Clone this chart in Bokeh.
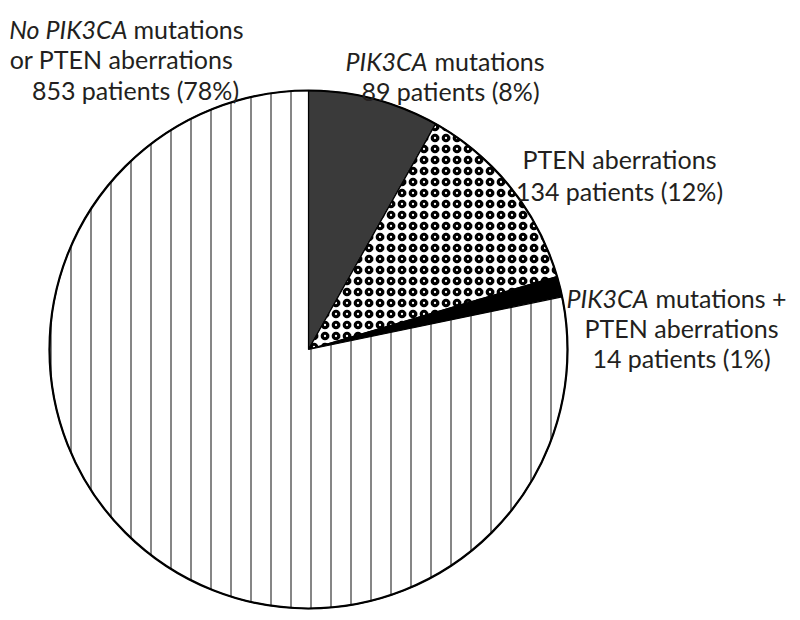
import math
from bokeh.plotting import figure
from bokeh.models import ColumnDataSource, Range1d
from bokeh.core.properties import value
from bokeh.embed import file_html
from bokeh.resources import INLINE

# ---- data ----
categories = ["PIK3CA mutations", "PTEN aberrations",
              "PIK3CA mutations + PTEN aberrations",
              "No PIK3CA mutations or PTEN aberrations"]
patients = [89, 134, 14, 853]
percents = [8, 12, 1, 78]

# ---- styles ----
fills = ["#3a3a3a", "white", "black", "white"]
hatches = ["blank", "ring", "blank", "vertical_line"]
hatch_scales = [10, 11, 10, 20]
hatch_weights = [1, 3.2, 1, 1.3]
hatch_colors = ["black", "black", "black", "#444444"]

W, H = 792, 612
p = figure(width=W, height=H, output_backend="svg", toolbar_location=None,
           x_range=Range1d(0, W), y_range=Range1d(620 - H, 620),
           min_border=0)
p.axis.visible = False
p.grid.visible = False
p.outline_line_color = None
p.background_fill_color = "white"

def Y(img_y):
    return 620 - img_y

cx, cy, r = 308, Y(349), 259
total = sum(patients)
starts, ends = [], []
cum = 0
for n in patients:
    a0 = math.pi / 2 - 2 * math.pi * cum / total
    cum += n
    a1 = math.pi / 2 - 2 * math.pi * cum / total
    starts.append(a0)
    ends.append(a1)

src = ColumnDataSource(dict(
    start=starts, end=ends, fill=fills, hatch=hatches,
    hs=hatch_scales, hw=hatch_weights, hc=hatch_colors,
    x=[cx] * 4, y=[cy] * 4))
p.wedge(x="x", y="y", radius=r, start_angle="start", end_angle="end",
        direction="clock", source=src, fill_color="fill",
        hatch_pattern="hatch", hatch_scale="hs", hatch_weight="hw",
        hatch_color="hc", line_color="black", line_width=1.2)
p.circle(x=[cx], y=[cy], radius=r, fill_color=None, line_color="black",
         line_width=2.2)

FONT = "Lato"
FS = "25px"
COL = "#231f20"

def txt(x, y, s, align, italic=False):
    p.text(x=[x], y=[Y(y)], text=[s], text_align=align,
           text_baseline="alphabetic", text_font=value(FONT),
           text_font_size=FS, text_color=COL,
           text_font_style="italic" if italic else "normal")

def lab(i):
    return f"{patients[i]} patients ({percents[i]}%)"

# No PIK3CA ... label
txt(127, 28, "No PIK3CA", "right", True)
txt(133, 28, "mutations", "left")
txt(121, 58, "or PTEN aberrations", "center")
txt(135, 89, lab(3), "center")

# PIK3CA mutations
txt(427, 60, "PIK3CA", "right", True)
txt(434, 60, "mutations", "left")
txt(450, 90, lab(0), "center")

# PTEN aberrations
txt(619, 158, "PTEN aberrations", "center")
txt(619, 190, lab(1), "center")

# Both
txt(648, 297, "PIK3CA", "right", True)
txt(655, 297, "mutations +", "left")
txt(681, 327, "PTEN aberrations", "center")
txt(681, 357, lab(2), "center")

open("out.html", "w").write(file_html(p, INLINE))
